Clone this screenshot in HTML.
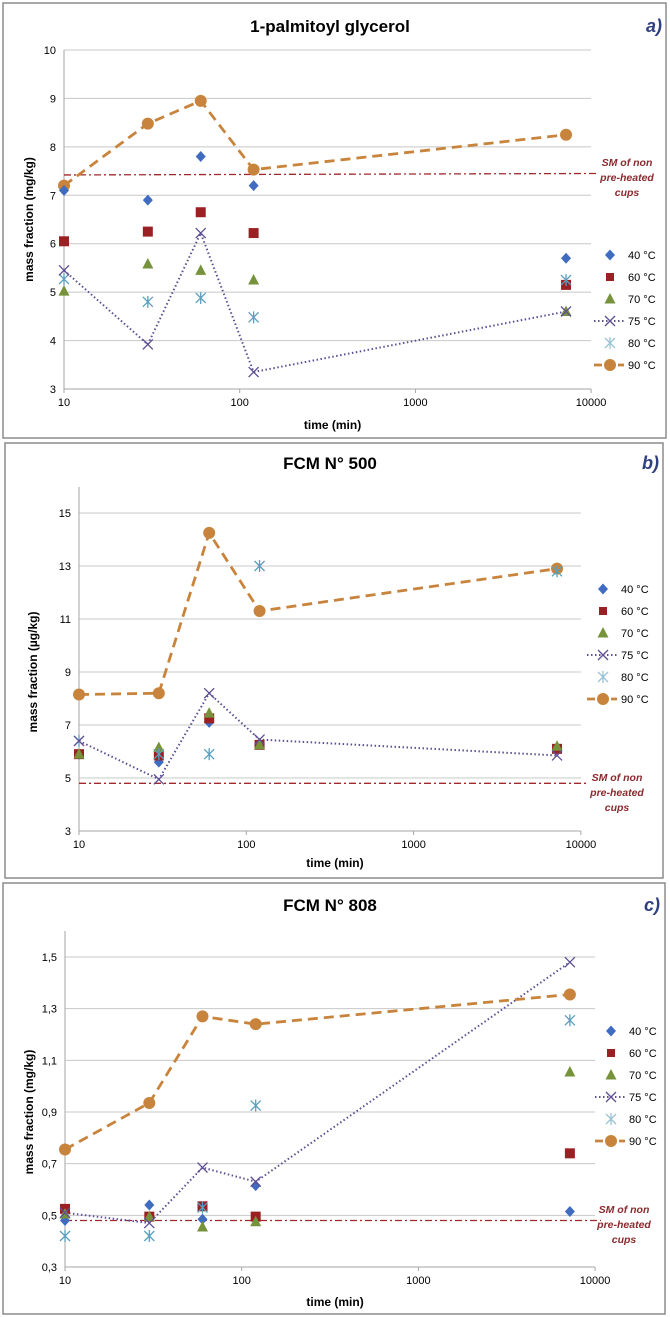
<!DOCTYPE html>
<html><head><meta charset="utf-8">
<style>
html,body{margin:0;padding:0;background:#fff;}
svg{display:block;font-family:"Liberation Sans",sans-serif;}
</style></head>
<body>
<svg id="fig" width="670" height="1317" viewBox="0 0 670 1317" xmlns="http://www.w3.org/2000/svg"></svg>
<script>
// ---- data ----
const times = [10, 30, 60, 120, 7200];
const seriesNames = ["40 °C","60 °C","70 °C","75 °C","80 °C","90 °C"];
// panel a: 1-palmitoyl glycerol (mg/kg)
const a40 = [7.1, 6.9, 7.8, 7.2, 5.7];
const a60 = [6.05, 6.25, 6.65, 6.22, 5.15];
const a70 = [5.02, 5.58, 5.45, 5.25, 4.6];
const a75 = [5.45, 3.92, 6.22, 3.35, 4.6];
const a80 = [5.27, 4.8, 4.88, 4.48, 5.25];
const a90 = [7.2, 8.48, 8.95, 7.53, 8.25];
const aSM = [7.42, 7.45];
const aTicks = [3,4,5,6,7,8,9,10];
// panel b: FCM N° 500 (µg/kg)
const b40 = [5.9, 5.6, 7.1, 6.3, 6.1];
const b60 = [5.9, 5.85, 7.25, 6.25, 6.1];
const b70 = [5.9, 6.15, 7.45, 6.25, 6.2];
const b75 = [6.4, 4.95, 8.2, 6.45, 5.85];
const b80 = [6.4, 5.9, 5.9, 13.0, 12.8];
const b90 = [8.15, 8.2, 14.25, 11.3, 12.9];
const bSM = [4.8, 4.8];
const bTicks = [3,5,7,9,11,13,15];
// panel c: FCM N° 808 (mg/kg)
const c40 = [0.48, 0.54, 0.485, 0.615, 0.515];
const c60 = [0.525, 0.495, 0.535, 0.495, 0.74];
const c70 = [0.505, 0.495, 0.455, 0.475, 1.055];
const c75 = [0.51, 0.47, 0.685, 0.63, 1.48];
const c80 = [0.42, 0.42, 0.53, 0.925, 1.255];
const c90 = [0.755, 0.935, 1.27, 1.24, 1.355];
const cSM = [0.48, 0.48];
const cTicks = [0.3,0.5,0.7,0.9,1.1,1.3,1.5];
const xTicks = [10, 100, 1000, 10000];

const NS = "http://www.w3.org/2000/svg";
const svg = document.getElementById('fig');
function mk(tag, attrs, parent){
  const e = document.createElementNS(NS, tag);
  for (const k in attrs) e.setAttribute(k, attrs[k]);
  (parent||svg).appendChild(e);
  return e;
}
const COL = {c40:"#3f6cc0", c60:"#9b2024", c70:"#76933c", c75:"#5e4f93", c80:"#5a9fbd", c90:"#c8843c", sm:"#a0282d"};

function marker(g, kind, x, y, col){
  let m;
  if (kind===0){ m = mk('polygon',{points:`${x},${y-5.5} ${x+5},${y} ${x},${y+5.5} ${x-5},${y}`,fill:col},g); }
  else if (kind===1){ m = mk('rect',{x:x-5,y:y-5,width:10,height:10,fill:col},g); }
  else if (kind===2){ m = mk('polygon',{points:`${x},${y-6} ${x+5.5},${y+4.5} ${x-5.5},${y+4.5}`,fill:col},g); }
  else if (kind===3){ m = mk('path',{d:`M${x-5},${y-5}L${x+5},${y+5}M${x-5},${y+5}L${x+5},${y-5}`,stroke:col,'stroke-width':1.3,fill:'none'},g); }
  else if (kind===4){ m = mk('path',{d:`M${x-5},${y-5}L${x+5},${y+5}M${x-5},${y+5}L${x+5},${y-5}M${x},${y-6}L${x},${y+6}`,stroke:col,'stroke-width':1.3,fill:'none'},g); }
  else { m = mk('circle',{cx:x,cy:y,r:6,fill:col},g); }
  return m;
}

function drawPanel(p){
  const g = mk('g',{});
  
  
  const frame = mk('rect',{x:p.box[0],y:p.box[1],width:p.box[2],height:p.box[3],fill:'#fff',stroke:'#8c8c8c','stroke-width':1.5},g);
  
  
  const X = v => p.x0 + (Math.log10(v)-1)*p.dec;
  const Y = v => p.yBot - (v - p.ticks[0])/(p.ticks[p.ticks.length-1]-p.ticks[0])*(p.yBot-p.yTop);
  const xEnd = X(10000);
  // gridlines + y ticks
  p.ticks.forEach(t=>{
    if (t!==p.ticks[0]){
      const gl = mk('line',{x1:p.x0,x2:xEnd,y1:Y(t),y2:Y(t),stroke:'#c8c8c8','stroke-width':1},g);
      
      
    }
    const tl = mk('text',{x:p.x0-8,y:Y(t)+4,'text-anchor':'end','font-size':11,fill:'#000'},g);
    tl.textContent = p.fmt(t);
    
    
  });
  // axes
  const ya = mk('line',{x1:p.x0,x2:p.x0,y1:p.axisTop,y2:p.yBot,stroke:'#a6a6a6','stroke-width':1},g);
  
  
  const xa = mk('line',{x1:p.x0,x2:xEnd,y1:p.yBot,y2:p.yBot,stroke:'#a6a6a6','stroke-width':1},g);
  
  
  xTicks.forEach(t=>{
    mk('line',{x1:X(t),x2:X(t),y1:p.yBot,y2:p.yBot+4,stroke:'#a6a6a6'},g);
    const tl = mk('text',{x:X(t),y:p.yBot+17,'text-anchor':'middle','font-size':11,fill:'#000'},g);
    tl.textContent = String(t);
    
    
  });
  // SM line
  const sm = mk('line',{x1:p.x0,x2:xEnd+6,y1:Y(p.sm[0]),y2:Y(p.sm[1]),stroke:COL.sm,'stroke-width':1.3,'stroke-dasharray':'7,3,2,3'},g);
  
  
  // lines
  const pts = arr => arr.map((v,i)=>`${X(times[i])},${Y(v)}`).join(' ');
  const l75 = mk('polyline',{points:pts(p.s[3]),fill:'none',stroke:COL.c75,'stroke-width':2,'stroke-dasharray':'1.5,2.5'},g);
  
  
  const l90 = mk('polyline',{points:pts(p.s[5]),fill:'none',stroke:COL.c90,'stroke-width':2.8,'stroke-dasharray':'10,6'},g);
  
  
  const cols=[COL.c40,COL.c60,COL.c70,COL.c75,COL.c80,COL.c90];
  const order=[5,0,1,2,4,3];
  order.forEach(k=>{
    p.s[k].forEach((v,i)=>{
      const m = marker(g,k,X(times[i]),Y(v),cols[k]);
      
      
    });
  });
  // title
  const ti = mk('text',{x:p.titleX,y:p.titleY,'text-anchor':'middle','font-size':17,'font-weight':'bold',fill:'#000'},g);
  ti.textContent = p.title;
  
  
  const lt = mk('text',{x:p.letterX,y:p.titleY,'text-anchor':'end','font-size':18,'font-weight':'bold','font-style':'italic',fill:'#2f3f7f'},g);
  lt.textContent = p.letter;
  
  
  // axis titles
  const xt = mk('text',{x:p.x0+(xEnd-p.x0)/2+5,y:p.xLabY,'text-anchor':'middle','font-size':12,'font-weight':'bold',fill:'#000'},g);
  xt.textContent = 'time (min)';
  
  
  const ym = (p.yTop+p.yBot)/2;
  const yt = mk('text',{x:0,y:0,transform:`translate(${p.yLabX},${ym}) rotate(-90)`,'text-anchor':'middle','font-size':12,'font-weight':'bold',fill:'#000'},g);
  yt.textContent = p.ylab;
  
  
  // SM annotation
  ['SM of non','pre-heated','cups'].forEach((s,i)=>{
    const t = mk('text',{x:p.smX,y:p.smY+i*15,'text-anchor':'middle','font-size':10.5,'font-weight':'bold','font-style':'italic',fill:'#8b2a2e'},g);
    t.textContent = s;
    
    
  });
  // legend
  seriesNames.forEach((n,k)=>{
    const ly = p.legY + k*22;
    const lg = mk('g',{},g);
    
    
    if (k===3) mk('line',{x1:p.legX-16,x2:p.legX+16,y1:ly,y2:ly,stroke:COL.c75,'stroke-width':2,'stroke-dasharray':'1.5,2.5'},lg);
    if (k===5) mk('line',{x1:p.legX-16,x2:p.legX+14,y1:ly,y2:ly,stroke:COL.c90,'stroke-width':2.8,'stroke-dasharray':'8,4'},lg);
    const s = k===0||k===2?0.8:(k===1?0.8:1);
    const m = marker(lg,k,p.legX,ly,[COL.c40,COL.c60,COL.c70,COL.c75,k===4?'#9cc3d5':COL.c80,COL.c90][k]);
    if (k===1) { m.setAttribute('width',8); m.setAttribute('height',8); m.setAttribute('x',p.legX-4); m.setAttribute('y',ly-4); }
    const t = mk('text',{x:p.legX+18,y:ly+4,'font-size':11,fill:'#000'},lg);
    t.textContent = n;
  });
}

drawPanel({id:'a', box:[3,3,663,435], x0:64, dec:175.7, yTop:50, yBot:389, axisTop:50, ticks:aTicks, fmt:t=>String(t),
  s:[a40,a60,a70,a75,a80,a90], sm:aSM, title:'1-palmitoyl glycerol', titleX:330, titleY:32, letter:'a)', letterX:662,
  xLabY:429, yLabX:33, ylab:'mass fraction (mg/kg)', smX:627, smY:166, legX:610, legY:255});
drawPanel({id:'b', box:[5,443,658,435], x0:79, dec:167.3, yTop:513, yBot:831, axisTop:487, ticks:bTicks, fmt:t=>String(t),
  s:[b40,b60,b70,b75,b80,b90], sm:bSM, title:'FCM N° 500', titleX:330, titleY:469, letter:'b)', letterX:659,
  xLabY:867, yLabX:37, ylab:'mass fraction (µg/kg)', smX:617, smY:781, legX:603, legY:589});
drawPanel({id:'c', box:[3,883,662,431], x0:65, dec:176.7, yTop:957, yBot:1267, axisTop:931, ticks:cTicks, fmt:t=>t.toFixed(1).replace('.',','), 
  s:[c40,c60,c70,c75,c80,c90], sm:cSM, title:'FCM N° 808', titleX:330, titleY:911, letter:'c)', letterX:660,
  xLabY:1306, yLabX:33, ylab:'mass fraction (mg/kg)', smX:624, smY:1213, legX:611, legY:1031});
</script>
</body></html>
